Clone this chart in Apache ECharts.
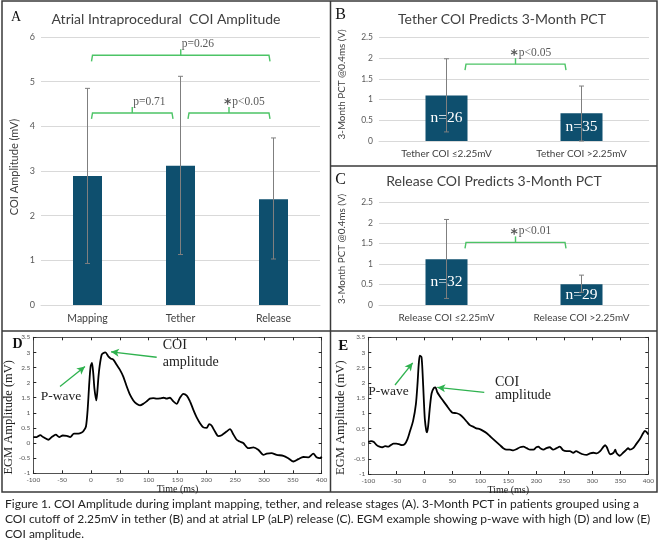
<!DOCTYPE html>
<html><head><meta charset="utf-8">
<script src="https://cdn.jsdelivr.net/npm/echarts@6/dist/echarts.min.js"></script>
<style>html,body{margin:0;padding:0;background:#fff}#c{width:661px;height:547px}</style>
</head><body><div id="c"></div>
<script>
// ---------- Panel A ----------
const stageCats = ['Mapping', 'Tether', 'Release'];
const stageMean = [2.89, 3.12, 2.37];
const stageLow = [0.93, 1.13, 1.03];
const stageHigh = [4.85, 5.12, 3.74];
const bracketAFrom = [0, 1, 0];
const bracketATo = [1, 2, 2];
const bracketALevel = [4.30, 4.30, 5.59];
const bracketALabel = ['p=0.71', '*p<0.05', 'p=0.26'];
// ---------- Panel B ----------
const tetherCats = ['Tether COI \u22642.25mV', 'Tether COI >2.25mV'];
const tetherMean = [1.10, 0.67];
const tetherLow = [0.22, 0.0];
const tetherHigh = [1.99, 1.33];
const tetherN = ['n=26', 'n=35'];
const tetherBracketLevel = 1.86;
const tetherP = '*p<0.05';
// ---------- Panel C ----------
const releaseCats = ['Release COI \u22642.25mV', 'Release COI >2.25mV'];
const releaseMean = [1.12, 0.51];
const releaseLow = [0.16, 0.31];
const releaseHigh = [2.09, 0.73];
const releaseN = ['n=32', 'n=29'];
const releaseBracketLevel = 1.53;
const releaseP = '*p<0.01';
// ---------- Panel D ----------
const timeD = [-100,-94,-88,-83,-74,-68,-61,-55,-49,-42,-36,-29.5,-22,-16,-13,-8.7,-5.8,-2.9,-0.6,1.7,4,6,9.2,11,13,15,18.5,21,25,30,34,38.7,44.5,50,56,62,67.6,73.4,79,85,90.8,96.5,102,108,114,120,126,131,137,142.8,148.6,154,160,166,171.7,177.5,183,189,194.8,200.6,205,209,215,220.8,226.6,235,241,247,252.6,258,264,272.8,281.5,290,299,304.6,313,322,333.5,342,351,359.5,368,377,385.5,391,397,400];
const ampD = [0.2,0.2,0.26,0.2,0.11,0.2,0.28,0.2,0.25,0.24,0.2,0.31,0.31,0.35,0.4,0.55,1.1,2.0,2.54,2.65,2.3,1.8,1.41,1.7,2.2,2.55,2.92,2.97,3.0,2.87,2.8,2.76,2.59,2.43,2.2,1.87,1.6,1.41,1.3,1.25,1.3,1.38,1.47,1.49,1.47,1.48,1.5,1.47,1.5,1.38,1.3,1.49,1.63,1.57,1.38,1.1,0.86,0.66,0.52,0.5,0.63,0.58,0.38,0.23,0.26,0.38,0.46,0.28,0.11,0.05,0,-0.17,-0.14,-0.22,-0.39,-0.35,-0.33,-0.39,-0.42,-0.5,-0.61,-0.53,-0.46,-0.47,-0.35,-0.47,-0.5,-0.45];
const arrowsD = [[113.9, 2.84, 34.7, 3.02], [-53.7, 1.87, -10.4, 2.53]];
// ---------- Panel E ----------
const timeE = [-100,-95,-90,-85,-80,-75,-70,-65,-60,-55,-50,-45,-40,-35,-30,-26,-20,-15,-12,-10,-8,-5,-3,-1,1,3.6,5,7,10,13,17,20,23,28,34,40,46,50,58,64,70,76,82,88,93,99,105,111,117,123,129,135,141,147,153,159,165,171,177,183,189,195,200,204,207,213,218,224,230,236,242,248,254,260,266,271,277,283,290,296,302,308,314,320,323,326,332,338,341,343,349,355,361,364,367,373,379,385,391,394,397,400];
const ampE = [0.05,0.08,0.05,-0.05,-0.1,-0.12,-0.08,-0.1,-0.05,0,0,-0.02,-0.05,-0.02,0.15,0.38,0.75,1.3,2.0,2.6,2.9,2.85,2.3,1.5,0.8,0.42,0.37,0.6,1.2,1.65,1.83,1.85,1.7,1.55,1.4,1.25,1.1,1.02,1.0,0.95,0.85,0.72,0.6,0.55,0.5,0.48,0.42,0.35,0.25,0.15,0.05,-0.05,-0.15,-0.2,-0.2,-0.22,-0.18,-0.12,-0.1,-0.15,-0.2,-0.2,-0.12,-0.1,-0.15,-0.2,-0.15,-0.12,-0.2,-0.15,-0.1,-0.22,-0.25,-0.25,-0.3,-0.25,-0.3,-0.35,-0.37,-0.32,-0.3,-0.32,-0.25,-0.1,-0.05,-0.12,-0.35,-0.3,-0.2,-0.3,-0.4,-0.3,-0.2,-0.15,-0.2,-0.15,0.0,0.15,0.35,0.42,0.38,0.3];
const arrowsE = [[107.1, 1.69, 23.2, 1.85], [-52.3, 1.93, -20.7, 2.66]];

const captionLines = [
  'Figure 1. COI Amplitude during implant mapping, tether, and release stages (A). 3-Month PCT in patients grouped using a',
  'COI cutoff of 2.25mV in tether (B) and at atrial LP (aLP) release (C). EGM example showing p-wave with high (D) and low (E)',
  'COI amplitude.'
];

// ---------- styles ----------
const SANS = 'Lato, "Open Sans", sans-serif';
const SERIF = '"Liberation Serif", "DejaVu Serif", serif';
const BAR = '#0e4f6e';
const GREEN = '#4cc466';
const ARROW = '#2fb24f';
const ERR = '#7f7f7f';
const TXT = '#404040';

const zip = (a, b) => a.map((v, i) => [v, b[i]]);

function errSeries(xi, yi, low, high) {
  return {
    type: 'custom', xAxisIndex: xi, yAxisIndex: yi, z: 5, silent: true,
    data: low.map((l, i) => [i, l, high[i]]),
    encode: { x: 0, y: [1, 2] },
    renderItem: function (p, api) {
      const a = api.coord([api.value(0), api.value(1)]);
      const b = api.coord([api.value(0), api.value(2)]);
      const st = { stroke: ERR, lineWidth: 1 };
      return { type: 'group', children: [
        { type: 'line', shape: { x1: a[0], y1: a[1], x2: b[0], y2: b[1] }, style: st },
        { type: 'line', shape: { x1: a[0] - 2.5, y1: a[1], x2: a[0] + 2.5, y2: a[1] }, style: st },
        { type: 'line', shape: { x1: b[0] - 2.5, y1: b[1], x2: b[0] + 2.5, y2: b[1] }, style: st }
      ]};
    }
  };
}

function bracketSeries(xi, yi, from, to, level, labels, pads) {
  return {
    type: 'custom', xAxisIndex: xi, yAxisIndex: yi, z: 6, silent: true,
    data: from.map((f, i) => [f, to[i], level[i], i]),
    encode: { x: [0, 1], y: 2 },
    renderItem: function (p, api) {
      const i = api.value(3);
      const pl = api.coord([api.value(0), api.value(2)]);
      const pr = api.coord([api.value(1), api.value(2)]);
      const xL = pl[0] + pads[i][0], xR = pr[0] - pads[i][1], y = pl[1];
      const xm = (xL + xR) / 2;
      const st = { stroke: GREEN, lineWidth: 1.4, fill: null };
      const lab = labels[i];
      const star = lab.charAt(0) === '*';
      return { type: 'group', children: [
        { type: 'polyline', shape: { points: [[xL, y + 6], [xL + 1, y], [xR - 1, y], [xR, y + 6]] }, style: st },
        { type: 'line', shape: { x1: xm, y1: y, x2: xm, y2: y - 6 }, style: st },
        { type: 'text', style: {
            x: star ? xm - 5 : xm + 1, y: y - 11, align: 'left', verticalAlign: 'middle',
            text: star ? '{s|*}{p|' + lab.slice(1) + '}' : '{p|' + lab + '}',
            rich: {
              s: { fontFamily: 'DejaVu Sans', fontWeight: 'bold', fontSize: 14, fill: '#555', padding: [5, 1, 0, 0] },
              p: { fontFamily: SERIF, fontSize: 11.5, fill: '#595959' }
            }
        } }
      ]};
    }
  };
}

const catAxis = (gi, cats, fs) => ({
  type: 'category', gridIndex: gi, data: cats,
  axisLine: { lineStyle: { color: '#d9d9d9' } }, axisTick: { show: false },
  axisLabel: { fontFamily: SANS, fontSize: fs, color: TXT, margin: 8 }
});
const barValAxis = (gi, max, interval, name, gap, lfs, nfs, shift) => ({
  type: 'value', gridIndex: gi, min: 0, max: max, interval: interval,
  axisLine: { show: false }, axisTick: { show: false },
  splitLine: { lineStyle: { color: '#d9d9d9' } },
  axisLabel: { fontFamily: SANS, fontSize: lfs, color: '#595959', margin: 6 },
  name: name, nameLocation: 'middle', nameGap: gap,
  nameTextStyle: { fontFamily: SANS, fontSize: nfs, color: TXT, padding: [0, 0, 0, shift] }
});
const egmX = (gi, pos, showLab) => ({
  type: 'value', gridIndex: gi, min: -100, max: 400, interval: 50, position: pos,
  axisLine: { show: true, onZero: false, lineStyle: { color: '#262626', width: 0.8 } },
  axisTick: { inside: true, length: 3, lineStyle: { color: '#262626' } },
  splitLine: { show: false },
  axisLabel: { show: showLab, fontFamily: SANS, fontSize: 6.5, color: '#555', margin: 3 },
  name: showLab ? 'Time (ms)' : '', nameLocation: 'middle', nameGap: 11,
  nameTextStyle: { fontFamily: SERIF, fontSize: 10, color: '#222' }
});
const egmY = (gi, pos, showLab, gap) => ({
  type: 'value', gridIndex: gi, min: -1, max: 3.5, interval: 0.5, position: pos,
  axisLine: { show: true, onZero: false, lineStyle: { color: '#262626', width: 0.8 } },
  axisTick: { inside: true, length: 3, lineStyle: { color: '#262626' } },
  splitLine: { show: false },
  axisLabel: { show: showLab, fontFamily: SANS, fontSize: 6.5, color: '#555', margin: 3 },
  name: showLab ? 'EGM Amplitude (mV)' : '', nameLocation: 'middle', nameGap: gap,
  nameTextStyle: { fontFamily: SERIF, fontSize: 12.5, color: '#222', padding: [0, 24, 0, 0] }
});

function arrowMark(arr) {
  return {
    silent: true, symbol: ['none', 'arrow'], symbolSize: [6, 8],
    lineStyle: { color: ARROW, type: 'solid', width: 1.3 }, label: { show: false },
    emphasis: { disabled: true },
    data: arr.map(a => [{ coord: [a[0], a[1]] }, { coord: [a[2], a[3]] }])
  };
}

const txt = (x, y, text, font, extra) => ({
  type: 'text', x: x, y: y, silent: true,
  style: Object.assign({ text: text, font: font, fill: TXT, align: 'center', verticalAlign: 'middle' }, extra || {})
});

const chart = echarts.init(document.getElementById('c'), null, { renderer: 'canvas' });
chart.setOption({
  animation: false,
  backgroundColor: '#fff',
  grid: [
    { left: 41, top: 37, width: 279, height: 268 },
    { left: 379, top: 37.7, width: 270, height: 103.3 },
    { left: 379, top: 202.7, width: 270, height: 102.3 },
    { left: 33.3, top: 337.3, width: 288.4, height: 136 },
    { left: 368.3, top: 337.3, width: 280, height: 136.7 }
  ],
  xAxis: [
    catAxis(0, stageCats, 10.5),
    catAxis(1, tetherCats, 10),
    catAxis(2, releaseCats, 10),
    egmX(3, 'bottom', true),
    egmX(4, 'bottom', true),
    egmX(3, 'top', false),
    egmX(4, 'top', false)
  ],
  yAxis: [
    barValAxis(0, 6, 1, 'COI Amplitude (mV)', 21, 9, 11, 8),
    barValAxis(1, 2.5, 0.5, '3-Month PCT @0.4ms (V)', 32, 8.5, 9.8, 10),
    barValAxis(2, 2.5, 0.5, '3-Month PCT @0.4ms (V)', 32, 8.5, 9.8, 10),
    egmY(3, 'left', true, 18),
    egmY(4, 'left', true, 21),
    egmY(3, 'right', false, 0),
    egmY(4, 'right', false, 0)
  ],
  series: [
    { type: 'bar', xAxisIndex: 0, yAxisIndex: 0, data: stageMean, barWidth: 29, itemStyle: { color: BAR }, silent: true },
    errSeries(0, 0, stageLow, stageHigh),
    bracketSeries(0, 0, bracketAFrom, bracketATo, bracketALevel, bracketALabel, [[4, 7.5], [7.5, 3.5], [4, 3.5]]),

    { type: 'bar', xAxisIndex: 1, yAxisIndex: 1, data: tetherMean, barWidth: 42, itemStyle: { color: BAR }, silent: true,
      label: { show: true, position: 'inside', formatter: p => tetherN[p.dataIndex], color: '#fff', fontFamily: SERIF, fontSize: 15.5 } },
    errSeries(1, 1, tetherLow, tetherHigh),
    bracketSeries(1, 1, [0], [1], [tetherBracketLevel], [tetherP], [[18.5, 15.5]]),

    { type: 'bar', xAxisIndex: 2, yAxisIndex: 2, data: releaseMean, barWidth: 42, itemStyle: { color: BAR }, silent: true,
      label: { show: true, position: 'inside', formatter: p => releaseN[p.dataIndex], color: '#fff', fontFamily: SERIF, fontSize: 15.5 } },
    errSeries(2, 2, releaseLow, releaseHigh),
    bracketSeries(2, 2, [0], [1], [releaseBracketLevel], [releaseP], [[18.5, 15.5]]),

    { type: 'line', xAxisIndex: 3, yAxisIndex: 3, data: zip(timeD, ampD), showSymbol: false, smooth: 0.25,
      lineStyle: { color: '#000', width: 1.8 }, silent: true, markLine: arrowMark(arrowsD) },
    { type: 'line', xAxisIndex: 4, yAxisIndex: 4, data: zip(timeE, ampE), showSymbol: false, smooth: 0.25,
      lineStyle: { color: '#000', width: 1.8 }, silent: true, markLine: arrowMark(arrowsE) }
  ],
  graphic: [
    { type: 'rect', silent: true, shape: { x: 2, y: 1, width: 655, height: 491 }, style: { fill: null, stroke: '#3a3a3a', lineWidth: 1.5 } },
    { type: 'line', silent: true, shape: { x1: 330.5, y1: 1, x2: 330.5, y2: 492 }, style: { stroke: '#3a3a3a', lineWidth: 1.5 } },
    { type: 'line', silent: true, shape: { x1: 330, y1: 166, x2: 657, y2: 166 }, style: { stroke: '#3a3a3a', lineWidth: 1.5 } },
    { type: 'line', silent: true, shape: { x1: 2, y1: 331, x2: 657, y2: 331 }, style: { stroke: '#3a3a3a', lineWidth: 1.5 } },

    txt(16, 17, 'A', '14px ' + SERIF, { fill: '#111' }),
    txt(340.5, 15, 'B', '16px ' + SERIF, { fill: '#111' }),
    txt(340.7, 180, 'C', '16px ' + SERIF, { fill: '#111' }),
    txt(17.5, 344, 'D', 'bold 14px ' + SERIF, { fill: '#111' }),
    txt(343.3, 346, 'E', 'bold 15px ' + SERIF, { fill: '#111' }),

    txt(166, 19, 'Atrial Intraprocedural  COI Amplitude', '14px ' + SANS),
    txt(502, 19, 'Tether COI Predicts 3-Month PCT', '14px ' + SANS),
    txt(494, 181.7, 'Release COI Predicts 3-Month PCT', '14px ' + SANS),

    txt(162.7, 345, 'COI', '14px ' + SERIF, { align: 'left', fill: '#222' }),
    txt(162.7, 362.3, 'amplitude', '14px ' + SERIF, { align: 'left', fill: '#222' }),
    txt(61, 396.7, 'P-wave', '13.5px ' + SERIF, { fill: '#222' }),
    txt(495, 382.3, 'COI', '14px ' + SERIF, { align: 'left', fill: '#222' }),
    txt(495, 395, 'amplitude', '14px ' + SERIF, { align: 'left', fill: '#222' }),
    txt(388.5, 391, 'P-wave', '13.5px ' + SERIF, { fill: '#222' }),

    txt(5, 504.6, captionLines[0], '12px ' + SANS, { align: 'left', fill: '#222' }),
    txt(5, 519.6, captionLines[1], '12px ' + SANS, { align: 'left', fill: '#222' }),
    txt(5, 534, captionLines[2], '12px ' + SANS, { align: 'left', fill: '#222' })
  ]
});
</script></body></html>
